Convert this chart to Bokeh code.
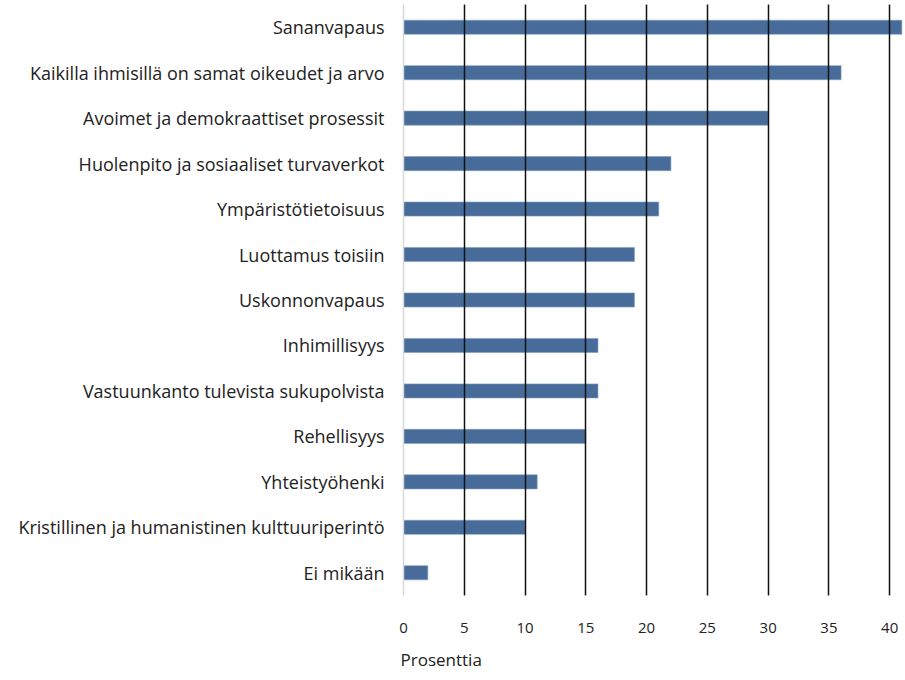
from bokeh.plotting import figure
from bokeh.models import FactorRange, Range1d, FixedTicker, Title, ColumnDataSource
from bokeh.embed import file_html
from bokeh.resources import INLINE

categories = [
    "Sananvapaus",
    "Kaikilla ihmisillä on samat oikeudet ja arvo",
    "Avoimet ja demokraattiset prosessit",
    "Huolenpito ja sosiaaliset turvaverkot",
    "Ympäristötietoisuus",
    "Luottamus toisiin",
    "Uskonnonvapaus",
    "Inhimillisyys",
    "Vastuunkanto tulevista sukupolvista",
    "Rehellisyys",
    "Yhteistyöhenki",
    "Kristillinen ja humanistinen kulttuuriperintö",
    "Ei mikään",
]
values = [41, 36, 30, 22, 21, 19, 19, 16, 16, 15, 11, 10, 2]
x_ticks = [0, 5, 10, 15, 20, 25, 30, 35, 40]
grid_ticks = [5, 10, 15, 20, 25, 30, 35, 40]
x_label = "Prosenttia"

src = ColumnDataSource(dict(cat=categories, val=values))

p = figure(
    width=905, height=680,
    y_range=FactorRange(factors=list(reversed(categories))),
    x_range=Range1d(0, 41.3),
    output_backend="svg", toolbar_location=None,
    min_border_left=403, min_border_right=0, min_border_top=4, min_border_bottom=83,
)
p.outline_line_color = None
p.background_fill_color = "white"

p.hbar(y="cat", right="val", left=0, height=0.31, source=src,
       fill_color="#476c99", line_color="#7f9cc0", line_width=0.6)

p.xaxis.ticker = FixedTicker(ticks=x_ticks)
p.xaxis.axis_line_color = None
p.xaxis.major_tick_line_color = None
p.xaxis.minor_tick_line_color = None
p.xaxis.major_label_standoff = 21
p.xaxis.major_label_text_font = "Open Sans"
p.xaxis.major_label_text_font_size = "15px"
p.xaxis.major_label_text_color = "#222222"

p.yaxis.axis_line_color = "#d9d9d9"
p.yaxis.axis_line_width = 1.5
p.yaxis.major_tick_line_color = None
p.yaxis.minor_tick_line_color = None
p.yaxis.major_label_standoff = 13
p.yaxis.major_label_text_font = "Open Sans"
p.yaxis.major_label_text_font_size = "18px"
p.yaxis.major_label_text_color = "#222222"

p.ygrid.grid_line_color = None
p.xgrid.ticker = FixedTicker(ticks=grid_ticks)
p.xgrid.grid_line_color = "#111111"
p.xgrid.grid_line_width = 1.5
p.xgrid.level = "overlay"

t = Title(text=x_label, align="left", text_font="Open Sans",
          text_font_size="17px", text_font_style="normal", text_color="#222222",
          offset=-3, standoff=20)
p.add_layout(t, "below")

open("out.html", "w").write(file_html(p, INLINE))
